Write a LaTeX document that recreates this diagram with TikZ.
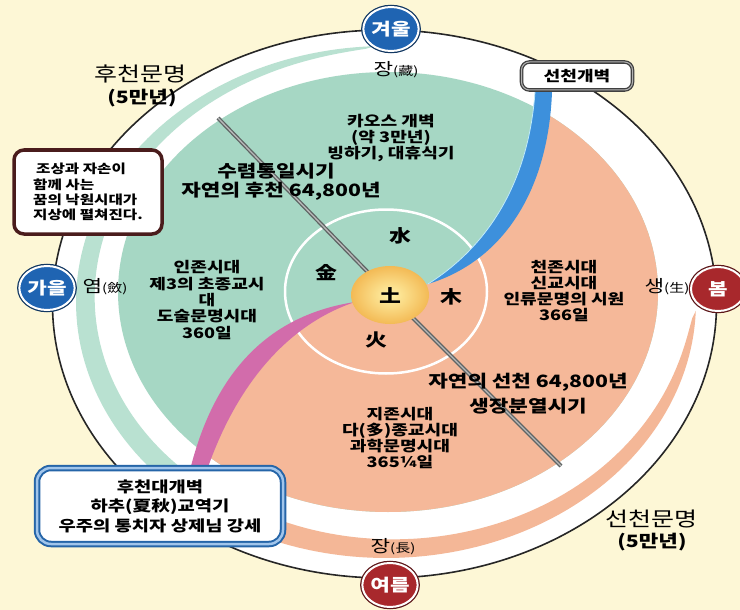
\documentclass[tikz,border=0pt]{standalone}
\usepackage{fontspec}
\usetikzlibrary{shapes.geometric}
\newfontfamily\kr[FakeStretch=1.25]{Noto Sans CJK KR}
\definecolor{bgc}{HTML}{FDF7D6}
\definecolor{tealc}{HTML}{A6D7C4}
\definecolor{tealband}{HTML}{B9E1D1}
\definecolor{salmonc}{HTML}{F5B899}
\definecolor{salband}{HTML}{F4B797}
\definecolor{blueband}{HTML}{3D90DC}
\definecolor{pinkband}{HTML}{D26CAB}
\definecolor{linegray}{HTML}{5F6464}
\definecolor{winterblue}{HTML}{1F64B2}
\definecolor{springred}{HTML}{A8282C}
\definecolor{maroonc}{HTML}{4A1C1C}
\definecolor{boxblue}{HTML}{2E7ED2}
\definecolor{earthin}{HTML}{FFF2A8}
\definecolor{earthout}{HTML}{F3BA55}
\begin{document}
\begin{tikzpicture}[x=1pt,y=-1pt,
  body/.style={font=\kr\bfseries\fontsize{14.5}{16.3}\selectfont, align=center, inner sep=0pt},
  bigtxt/.style={font=\kr\bfseries\fontsize{17}{20}\selectfont, align=center, inner sep=0pt},
  elem/.style={font=\kr\bfseries\fontsize{17.5}{20}\selectfont, inner sep=0pt},
  civ/.style={font=\kr\fontsize{20}{22}\selectfont, inner sep=0pt},
  civsub/.style={font=\kr\bfseries\fontsize{17}{19}\selectfont, inner sep=0pt},
  pole/.style={font=\kr\fontsize{17}{19}\selectfont, inner sep=0pt},
  hanja/.style={},
  season/.style={ellipse, minimum width=54pt, minimum height=44pt, inner sep=0pt, text=white, font=\kr\bfseries\fontsize{17}{19}\selectfont, draw=white, line width=2pt},
  divline/.style={line width=4pt, draw=linegray},
  divcore/.style={line width=1.3pt, draw=gray!55},
]
\fill[bgc] (0,0) rectangle (740,610);
\useasboundingbox (0,0) rectangle (740,610);

% outer ring
\filldraw[fill=white, draw=black!85, line width=1.6pt] (384.5,304) ellipse [x radius=332, y radius=274];

% thin outer bands
\fill[tealband] plot[domain=92:228, samples=80, variable=\t] ({386+310*cos(\t)},{302-256*sin(\t)})
  -- plot[domain=228:92, samples=80, variable=\t] ({386+310*(1-0.075*sqrt(abs(\t-92)/136))*cos(\t)},{302-256*(1-0.075*sqrt(abs(\t-92)/136))*sin(\t)}) -- cycle;
\fill[salband] plot[domain=-2:-135, samples=80, variable=\t] ({386+310*cos(\t)},{302-256*sin(\t)})
  -- plot[domain=-135:-2, samples=80, variable=\t] ({386+310*(1-0.09*sqrt(abs(\t+2)/133))*cos(\t)},{302-256*(1-0.09*sqrt(abs(\t+2)/133))*sin(\t)}) -- cycle;

% main disk
\fill[tealc] (388,292) ellipse [x radius=270, y radius=220];
\begin{scope}
  \clip (388,292) ellipse [x radius=270, y radius=220];
  \fill[salmonc] (543.5,30) -- (543.5,92) .. controls (538,192) and (491,256) .. (428,284) -- (390,296) -- (355,302) .. controls (282,318) and (227,372) .. (198,470) -- (185,600) -- (760,600) -- (760,30) -- cycle;
\end{scope}

% inner ring
\draw[white, line width=2.5pt] (386,291.5) ellipse [x radius=101, y radius=82];

% dividing line
\coordinate (la) at (218,118);
\coordinate (ec) at (390,295);
\coordinate (lb) at (561,466);
\draw[divline] (la) -- (ec);
\draw[divcore] (la) -- (ec);
\draw[divline] (ec) -- (lb);
\draw[divcore] (ec) -- (lb);

% blue band
\fill[blueband] (535,92) .. controls (528,190) and (482,250) .. (428,284) .. controls (500,262) and (548,195) .. (552,92) -- cycle;
\draw[cyan!25!white, line width=0.8pt] (535,92) .. controls (528,190) and (482,250) .. (428,284);
% pink band
\fill[pinkband] (355,302) .. controls (270,315) and (215,370) .. (190,470) -- (207,470) .. controls (240,375) and (295,322) .. (355,302) -- cycle;

% earth
\node[ellipse, minimum width=78pt, minimum height=58pt, inner sep=0pt, shade, inner color=earthin, outer color=earthout, font=\kr\bfseries\fontsize{17.5}{20}\selectfont] (earth) at (ec) {土};

% elements
\node[elem] (water) at (400,236) {水};
\node[elem] (metal) at (326,273) {金};
\node[elem] (wood) at (451,297) {木};
\node[elem] (fire) at (376,340) {火};

% civilisation labels
\node[civ] (hc) at (140,74) {후천문명};
\node[civsub] (hcy) at (142,98) {(5만년)};
\node[civ] (sc) at (651,519) {선천문명};
\node[civsub] (scy) at (652,542) {(5만년)};

% pole labels
\node[pole] (jangA) at (396,70) {장{\fontsize{12}{13}\selectfont(藏)}};
\node[pole] (yeom) at (105,287) {염{\fontsize{12}{13}\selectfont(斂)}};
\node[pole] (saeng) at (667,287) {생{\fontsize{12}{13}\selectfont(生)}};
\node[pole] (jangB) at (393,547) {장{\fontsize{12}{13}\selectfont(長)}};

% body texts
\node[body, font=\kr\bfseries\fontsize{14.5}{16}\selectfont] (chaos) at (391,138) {카오스 개벽\\(약 3만년)\\빙하기, 대휴식기};
\node[bigtxt] (conv) at (276,171) {수렴통일시기};
\node[bigtxt] (after) at (281,191) {자연의 후천 64,800년};
\node[body] (injon) at (207,300) {인존시대\\제3의 초종교시\\대\\도술문명시대\\360일};
\node[body] (cheonjon) at (564,291) {천존시대\\신교시대\\인류문명의 시원\\366일};
\node[bigtxt] (before) at (528,382) {자연의 선천 64,800년};
\node[bigtxt] (growth) at (528,406) {생장분열시기};
\node[body] (jijon) at (400,438) {지존시대\\다(多)종교시대\\과학문명시대\\365¼일};

% boxes
\node[draw=black!75, double=black!30, double distance=1pt, line width=1.3pt, fill=white, rounded corners=8pt, minimum width=111pt, minimum height=28pt, font=\kr\bfseries\fontsize{14.5}{17}\selectfont] (sbox) at (577,76) {선천개벽};
\node[draw=maroonc, line width=3.5pt, fill=white, rounded corners=10pt, minimum width=148pt, minimum height=84pt, align=left, font=\kr\bfseries\fontsize{12.5}{15.3}\selectfont] (dream) at (88,192) {\hspace{3pt}조상과 자손이\\함께 사는\\꿈의 낙원시대가\\지상에 펼쳐진다.};
\node[draw=boxblue!80!black, double=boxblue!45!white, double distance=2.5pt, line width=2pt, fill=white, rounded corners=14pt, minimum width=246pt, minimum height=76pt, align=center, font=\kr\bfseries\fontsize{15}{19.5}\selectfont] (hbox) at (160,506) {후천대개벽\\하추(夏秋)교역기\\우주의 통치자 상제님 강세};

% seasons
\node[season, fill=winterblue, preaction={draw=winterblue!55!black, line width=4.5pt}] (winter) at (391,29) {겨울};
\node[season, fill=winterblue, preaction={draw=winterblue!55!black, line width=4.5pt}] (autumn) at (47,288) {가을};
\node[season, fill=springred, preaction={draw=springred!55!black, line width=4.5pt}] (spring) at (718,289) {봄};
\node[season, fill=springred, preaction={draw=springred!55!black, line width=4.5pt}] (summer) at (390,585) {여름};
\end{tikzpicture}
\end{document}
